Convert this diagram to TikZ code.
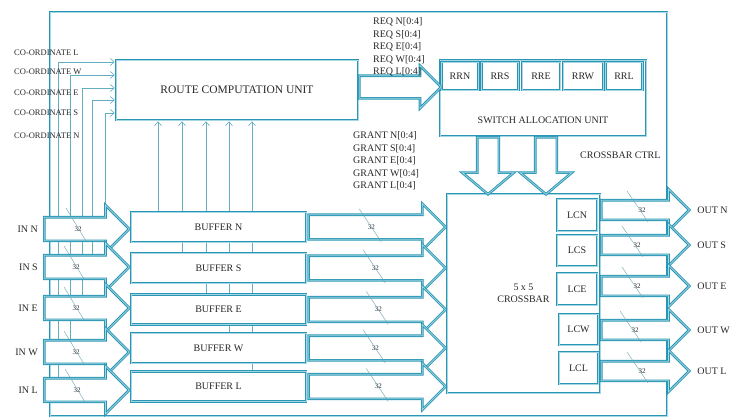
\documentclass[tikz,border=0pt]{standalone}
\usepackage{fontspec}
\setmainfont{Liberation Serif}
\usetikzlibrary{shapes.arrows,arrows.meta,positioning,backgrounds}
\definecolor{tealdark}{RGB}{40,150,180}
\definecolor{teallight}{RGB}{165,216,228}
\definecolor{wirecol}{RGB}{100,174,194}
\definecolor{ink}{RGB}{40,40,40}
\tikzset{
  frame/.style={draw=tealdark, line width=2.6pt, postaction={draw=teallight, line width=0.7pt}},
  unit/.style={rectangle, fill=white, frame, text=ink, inner sep=0pt, font=\fontsize{10}{12}\selectfont},
  bus/.style={single arrow, fill=white, frame, anchor=tail, inner xsep=0pt, text height=0pt, text depth=0pt, single arrow head indent=0pt, minimum width=0pt},
  inbus/.style={bus, minimum height=85pt, inner ysep=10.5pt, single arrow head extend=12pt},
  midbus/.style={bus, minimum height=137pt, inner ysep=11pt, single arrow head extend=11pt},
  outbus/.style={bus, minimum height=88pt, inner ysep=8.5pt, single arrow head extend=11pt},
  reqbus/.style={bus, minimum height=82pt, inner ysep=10pt, single arrow head extend=10pt},
  grantbus/.style={bus, minimum height=57pt, inner xsep=9.5pt, inner ysep=9.5pt, single arrow head extend=15pt, single arrow tip angle=100, shape border rotate=270},
  wire/.style={draw=wirecol, line width=0.6pt},
  slash/.style={draw=wirecol!80!gray, line width=0.4pt},
  buswidth/.style={font=\fontsize{7}{8}\selectfont, text=ink, inner sep=0pt},
  lbl/.style={font=\fontsize{10}{12.5}\selectfont, text=ink, inner sep=0pt},
  coordlbl/.style={font=\fontsize{8.5}{10}\selectfont, text=ink, inner sep=0pt, anchor=west},
}
\begin{document}
\begin{tikzpicture}[x=1pt, y=-1pt, >={Straight Barb[length=4pt,width=7pt]}]
\useasboundingbox (0,0) rectangle (735,418);
\draw[frame] (50,12) rectangle (667,416);

\node[unit, minimum width=242pt, minimum height=60pt, font=\fontsize{11.5}{13}\selectfont] (rcu) at (237,90) {ROUTE COMPUTATION UNIT};
\node[unit, minimum width=206pt, minimum height=76pt] (sau) at (543,98) {};
\node[unit, minimum width=37pt, minimum height=28pt] (rrn) at (460,76) {RRN};
\node[unit, minimum width=37pt, minimum height=28pt] (rrs) at (500,76) {RRS};
\node[unit, minimum width=38pt, minimum height=28pt] (rre) at (541,76) {RRE};
\node[unit, minimum width=40pt, minimum height=28pt] (rrw) at (583,76) {RRW};
\node[unit, minimum width=37pt, minimum height=28pt] (rrl) at (624,76) {RRL};
\node[lbl] (sautext) at (543,120) {SWITCH ALLOCATION UNIT};

\node[unit, minimum width=153pt, minimum height=199pt, align=center] (xbar) at (523.5,293.5) {5 x 5\\CROSSBAR};
\node[unit, minimum width=40pt, minimum height=32pt] (lcn) at (577,215) {LCN};
\node[unit, minimum width=40pt, minimum height=31pt] (lcs) at (577,250.5) {LCS};
\node[unit, minimum width=40pt, minimum height=32pt] (lce) at (577,289) {LCE};
\node[unit, minimum width=39pt, minimum height=31pt] (lcw) at (578.5,329.5) {LCW};
\node[unit, minimum width=39pt, minimum height=32pt] (lcl) at (578.5,368) {LCL};

\node[unit, minimum width=175pt, minimum height=30pt] (bufN) at (218.5,227) {BUFFER N};
\node[unit, minimum width=175pt, minimum height=30pt] (bufS) at (218.5,268) {BUFFER S};
\node[unit, minimum width=175pt, minimum height=30pt] (bufE) at (218.5,309.5) {BUFFER E};
\node[unit, minimum width=175pt, minimum height=30pt] (bufW) at (218.5,348) {BUFFER W};
\node[unit, minimum width=175pt, minimum height=30pt] (bufL) at (218.5,386.5) {BUFFER L};

\node[inbus] (inN) at (43,229) {};
\node[inbus] (inS) at (43,267) {};
\node[inbus] (inE) at (43,308) {};
\node[inbus] (inW) at (43,352) {};
\node[inbus] (inL) at (43,390) {};
\node[midbus] (mN) at (bufN.east) {};
\node[midbus] (mS) at (bufS.east) {};
\node[midbus] (mE) at (bufE.east) {};
\node[midbus] (mW) at (bufW.east) {};
\node[midbus] (mL) at (bufL.east) {};
\node[outbus] (oN) at (600,210) {};
\node[outbus] (oS) at (600,245) {};
\node[outbus] (oE) at (600,286) {};
\node[outbus] (oW) at (600,330) {};
\node[outbus] (oL) at (600,371) {};
\node[reqbus] (req) at (358,87) {};
\node[grantbus] (gnt1) at (488,136) {};
\node[grantbus] (gnt2) at (546,136) {};

\begin{scope}[on background layer]
\draw[wire,->] ([xshift=15pt]inL.tail) |- ([yshift=28pt]rcu.west);
\draw[wire,->] ([xshift=27pt]inW.tail) |- ([yshift=15pt]rcu.west);
\draw[wire,->] ([xshift=39pt]inE.tail) |- ([yshift=2pt]rcu.west);
\draw[wire,->] ([xshift=49pt]inS.tail) |- ([yshift=-10pt]rcu.west);
\draw[wire,->] ([xshift=62pt]inN.tail) |- ([yshift=-23pt]rcu.west);
\draw[wire,->] ([xshift=-60.5pt]bufN.north) -- ([xshift=-60.5pt]bufN.north |- rcu.south);
\draw[wire,->] ([xshift=-36.5pt]bufS.north) -- ([xshift=-36.5pt]bufS.north |- rcu.south);
\draw[wire,->] ([xshift=-12.5pt]bufE.north) -- ([xshift=-12.5pt]bufE.north |- rcu.south);
\draw[wire,->] ([xshift=10.5pt]bufW.north) -- ([xshift=10.5pt]bufW.north |- rcu.south);
\draw[wire,->] ([xshift=33.5pt]bufL.north) -- ([xshift=33.5pt]bufL.north |- rcu.south);
\end{scope}

\node[buswidth] (wiN) at ([xshift=35pt]inN.tail) {32};
\node[buswidth] (wiS) at ([xshift=33pt]inS.tail) {32};
\node[buswidth] (wiE) at ([xshift=33pt]inE.tail) {32};
\node[buswidth] (wiW) at ([xshift=33pt]inW.tail) {32};
\node[buswidth] (wiL) at ([xshift=34pt]inL.tail) {32};
\node[buswidth] (wmN) at ([xshift=64pt]mN.tail) {32};
\node[buswidth] (wmS) at ([xshift=68pt]mS.tail) {32};
\node[buswidth] (wmE) at ([xshift=71pt]mE.tail) {32};
\node[buswidth] (wmW) at ([xshift=68pt]mW.tail) {32};
\node[buswidth] (wmL) at ([xshift=71pt]mL.tail) {32};
\node[buswidth] (woN) at ([xshift=42pt]oN.tail) {32};
\node[buswidth] (woS) at ([xshift=37pt]oS.tail) {32};
\node[buswidth] (woE) at ([xshift=37pt]oE.tail) {32};
\node[buswidth] (woW) at ([xshift=35pt]oW.tail) {32};
\node[buswidth] (woL) at ([xshift=42pt]oL.tail) {32};
\draw[slash] ([shift={(-12,-21)}]wiN.center) -- ([shift={(8,12)}]wiN.center);
\draw[slash] ([shift={(-12,-21)}]wiS.center) -- ([shift={(8,12)}]wiS.center);
\draw[slash] ([shift={(-12,-21)}]wiE.center) -- ([shift={(8,12)}]wiE.center);
\draw[slash] ([shift={(-12,-21)}]wiW.center) -- ([shift={(8,12)}]wiW.center);
\draw[slash] ([shift={(-12,-21)}]wiL.center) -- ([shift={(8,12)}]wiL.center);
\draw[slash] ([shift={(-12,-18)}]wmN.center) -- ([shift={(10,15)}]wmN.center);
\draw[slash] ([shift={(-12,-18)}]wmS.center) -- ([shift={(10,15)}]wmS.center);
\draw[slash] ([shift={(-12,-18)}]wmE.center) -- ([shift={(10,15)}]wmE.center);
\draw[slash] ([shift={(-12,-18)}]wmW.center) -- ([shift={(10,15)}]wmW.center);
\draw[slash] ([shift={(-12,-18)}]wmL.center) -- ([shift={(10,15)}]wmL.center);
\draw[slash] ([shift={(-15,-19)}]woN.center) -- ([shift={(6,12)}]woN.center);
\draw[slash] ([shift={(-15,-19)}]woS.center) -- ([shift={(6,12)}]woS.center);
\draw[slash] ([shift={(-15,-19)}]woE.center) -- ([shift={(6,12)}]woE.center);
\draw[slash] ([shift={(-15,-19)}]woW.center) -- ([shift={(6,12)}]woW.center);
\draw[slash] ([shift={(-15,-19)}]woL.center) -- ([shift={(6,12)}]woL.center);

\node[lbl, left=5pt of inN.tail] (tinN) {IN N};
\node[lbl, left=5pt of inS.tail] (tinS) {IN S};
\node[lbl, left=5pt of inE.tail] (tinE) {IN E};
\node[lbl, left=5pt of inW.tail] (tinW) {IN W};
\node[lbl, left=5pt of inL.tail] (tinL) {IN L};
\node[lbl, right=6pt of oN.tip] (toutN) {OUT N};
\node[lbl, right=6pt of oS.tip] (toutS) {OUT S};
\node[lbl, right=6pt of oE.tip] (toutE) {OUT E};
\node[lbl, right=6pt of oW.tip] (toutW) {OUT W};
\node[lbl, right=6pt of oL.tip] (toutL) {OUT L};

\node[coordlbl] (cL) at (14,53) {CO-ORDINATE L};
\node[coordlbl] (cW) at (14,72) {CO-ORDINATE W};
\node[coordlbl] (cE) at (14,93) {CO-ORDINATE E};
\node[coordlbl] (cS) at (14,113) {CO-ORDINATE S};
\node[coordlbl] (cN) at (14,136) {CO-ORDINATE N};

\node[lbl, anchor=west, align=left] (reqtext) at (373,47) {REQ N[0:4]\\REQ S[0:4]\\REQ E[0:4]\\REQ W[0:4]\\REQ L[0:4]};
\node[lbl, anchor=west, align=left] (granttext) at (353,161) {GRANT N[0:4]\\GRANT S[0:4]\\GRANT E[0:4]\\GRANT W[0:4]\\GRANT L[0:4]};
\node[lbl, anchor=west] (ctrl) at (580,155) {CROSSBAR CTRL};
\end{tikzpicture}
\end{document}
